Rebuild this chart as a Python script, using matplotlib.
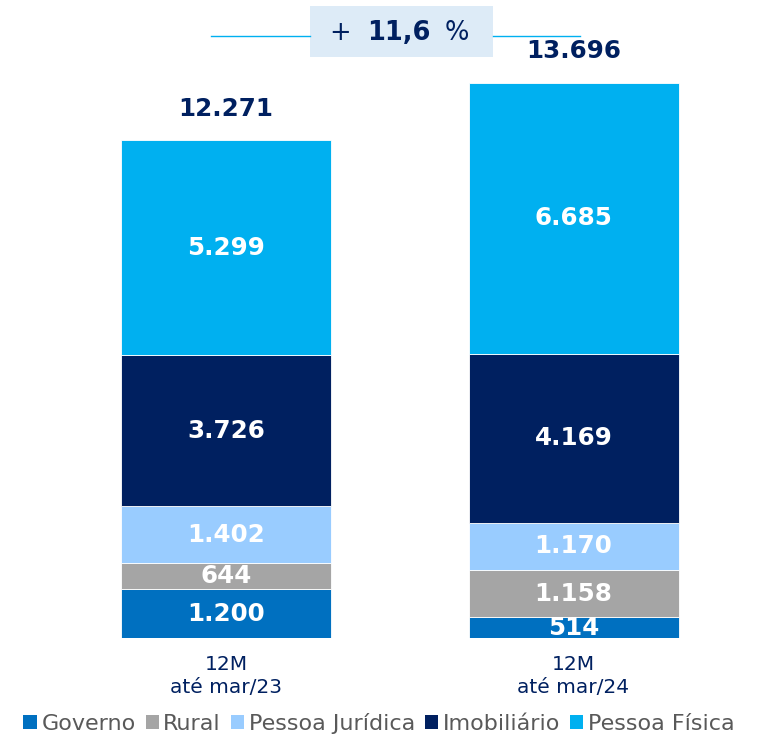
import matplotlib
matplotlib.use("Agg")
import matplotlib.pyplot as plt
from matplotlib.patches import Patch, Rectangle
from matplotlib.lines import Line2D

categories = ["12M\naté mar/23", "12M\naté mar/24"]
series_names = ["Governo", "Rural", "Pessoa Jurídica", "Imobiliário", "Pessoa Física"]
governo = [1200, 514]
rural = [644, 1158]
pj = [1402, 1170]
imob = [3726, 4169]
pf = [5299, 6685]
totals = [12271, 13696]
growth_label = "11,6"

colors = ["#0070C0", "#A5A5A5", "#99CCFF", "#002060", "#00B0F0"]
navy = "#002060"

W, H = 758, 734
fig = plt.figure(figsize=(W / 100, H / 100), dpi=100)

def fx(x):
    return x / W

def fy(y):
    return 1 - y / H

scale = 0.04055  # px per unit
base_px = 638
ax = fig.add_axes([0, 1 - base_px / H, 1, base_px / H])
ax.set_ylim(0, base_px / scale)
c0, gap = 226, 347.5
ax.set_xlim(-c0 / gap, (W - c0) / gap)
bw = 210 / gap

xs = [0, 1]
series = [governo, rural, pj, imob, pf]
bottoms = [0, 0]
for vals, col in zip(series, colors):
    ax.bar(xs, vals, bw, bottom=bottoms, color=col, edgecolor="white", linewidth=0.6)
    for i, v in enumerate(vals):
        ax.text(xs[i], bottoms[i] + v / 2, f"{v:,}".replace(",", "."),
                ha="center", va="center", color="white", fontsize=17.7, fontweight="bold")
    bottoms = [b + v for b, v in zip(bottoms, vals)]

for i, t in enumerate(totals):
    ax.annotate(f"{t:,}".replace(",", "."), (xs[i], t), xytext=(0, 22.5), textcoords="offset points",
                ha="center", va="center", color=navy, fontsize=17.7, fontweight="bold")

ax.set_xticks(xs)
ax.set_xticklabels(categories, fontsize=14.5, color=navy, linespacing=1.3)
ax.tick_params(axis="x", length=0, pad=12)
ax.set_yticks([])
for s in ax.spines.values():
    s.set_visible(False)

# growth box
fig.add_artist(Rectangle((fx(310), fy(57)), (493 - 310) / W, 51 / H, transform=fig.transFigure,
                         facecolor="#DDEBF7", edgecolor="none"))
fig.add_artist(Line2D([fx(211), fx(310)], [fy(36), fy(36)], transform=fig.transFigure, color="#00B0F0", lw=1))
fig.add_artist(Line2D([fx(493), fx(580)], [fy(36), fy(36)], transform=fig.transFigure, color="#00B0F0", lw=1))
fig.text(fx(340), fy(33), "+", ha="center", va="center", fontsize=18.5, color=navy)
fig.text(fx(398.5), fy(33), growth_label, ha="center", va="center", fontsize=18.5, color=navy, fontweight="bold")
fig.text(fx(457), fy(33), "%", ha="center", va="center", fontsize=18.5, color=navy)

handles = [Patch(facecolor=c, edgecolor="none") for c in colors]
leg = fig.legend(handles, series_names, loc="center", bbox_to_anchor=(0.5, fy(723)), ncol=5,
                 frameon=False, fontsize=16, handlelength=0.6, handleheight=0.6,
                 handletextpad=0.2, columnspacing=0.45, borderaxespad=0, labelcolor="#595959")

fig.savefig("out.png", dpi=100)
